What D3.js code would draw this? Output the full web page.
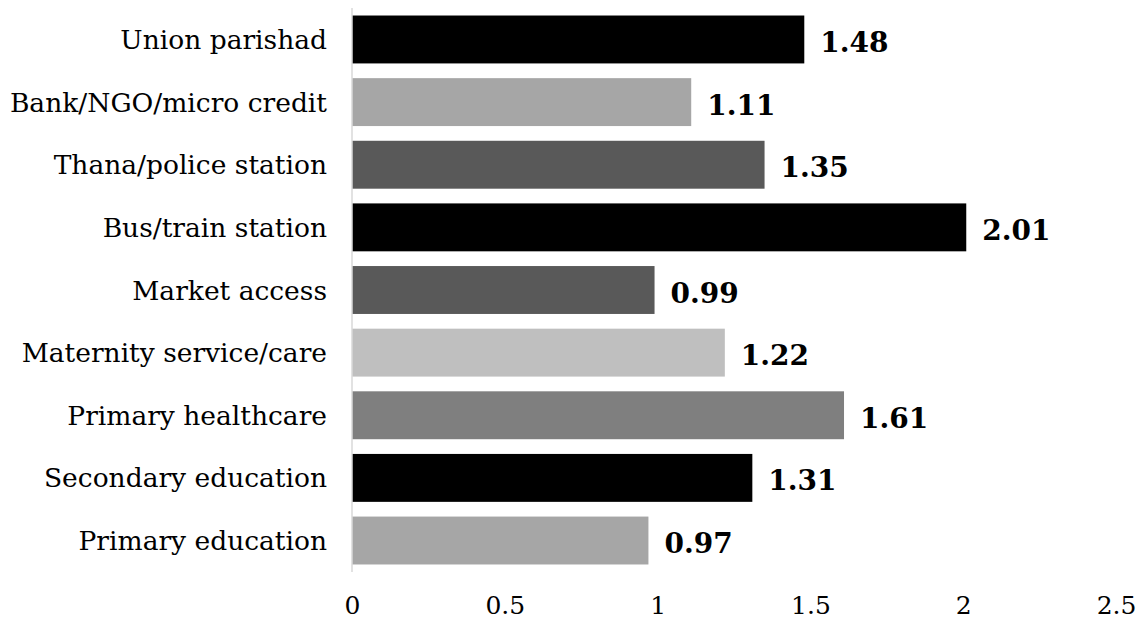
<!DOCTYPE html>
<html>
<head>
<meta charset="utf-8">
<script src="https://cdn.jsdelivr.net/npm/d3@7"></script>
<style>
  html, body { margin: 0; padding: 0; background: #fff; }
  svg { display: block; }
</style>
</head>
<body>
<svg id="chart" width="1137" height="621"></svg>
<script>
// Facilities, top to bottom
const categories = [
  "Union parishad",
  "Bank/NGO/micro credit",
  "Thana/police station",
  "Bus/train station",
  "Market access",
  "Maternity service/care",
  "Primary healthcare",
  "Secondary education",
  "Primary education"
];
const values = [1.48, 1.11, 1.35, 2.01, 0.99, 1.22, 1.61, 1.31, 0.97];
const barColors = ["#000000", "#a6a6a6", "#595959", "#000000", "#595959", "#bfbfbf", "#7f7f7f", "#000000", "#a6a6a6"];
const tickValues = [0, 0.5, 1, 1.5, 2, 2.5];
const tickLabels = ["0", "0.5", "1", "1.5", "2", "2.5"];

const svg = d3.select("#chart");
const serif = "'DejaVu Serif', Georgia, serif";

const x = d3.scaleLinear().domain([0, 2.5]).range([352, 1116]);
const y = d3.scaleBand().domain(categories).range([8, 572]).paddingInner(0.235).paddingOuter(0.12);

// Bars
svg.append("g").selectAll("rect")
  .data(categories)
  .join("rect")
  .attr("x", x(0))
  .attr("y", d => y(d))
  .attr("width", (d, i) => x(values[i]) - x(0))
  .attr("height", y.bandwidth())
  .attr("fill", (d, i) => barColors[i]);

// Category axis (left)
const yAxis = svg.append("g")
  .attr("transform", `translate(${x(0)},0)`)
  .call(d3.axisLeft(y).tickSize(0).tickPadding(25));
yAxis.select(".domain").attr("stroke", "#d9d9d9").attr("stroke-width", 1.5)
  .attr("d", `M0,${y.range()[0]}V${y.range()[1]}`);
yAxis.selectAll("text")
  .attr("font-family", serif)
  .attr("font-size", 26.5)
  .attr("fill", "#000")
  .attr("dy", "0.36em");

// Value axis (bottom, labels only)
const xAxis = svg.append("g")
  .attr("transform", "translate(0,596)")
  .call(d3.axisBottom(x).tickValues(tickValues).tickFormat((d, i) => tickLabels[i]).tickSize(0).tickPadding(0));
xAxis.select(".domain").remove();
xAxis.selectAll("text")
  .attr("font-family", serif)
  .attr("font-size", 25)
  .attr("fill", "#000");

// Value labels
svg.append("g").selectAll("text")
  .data(categories)
  .join("text")
  .attr("x", (d, i) => x(values[i]) + 16)
  .attr("y", d => y(d) + y.bandwidth() / 2)
  .attr("dy", "0.45em")
  .attr("font-family", serif)
  .attr("font-weight", "bold")
  .attr("font-size", 28)
  .attr("fill", "#000")
  .text((d, i) => values[i].toFixed(2));
</script>
</body>
</html>
